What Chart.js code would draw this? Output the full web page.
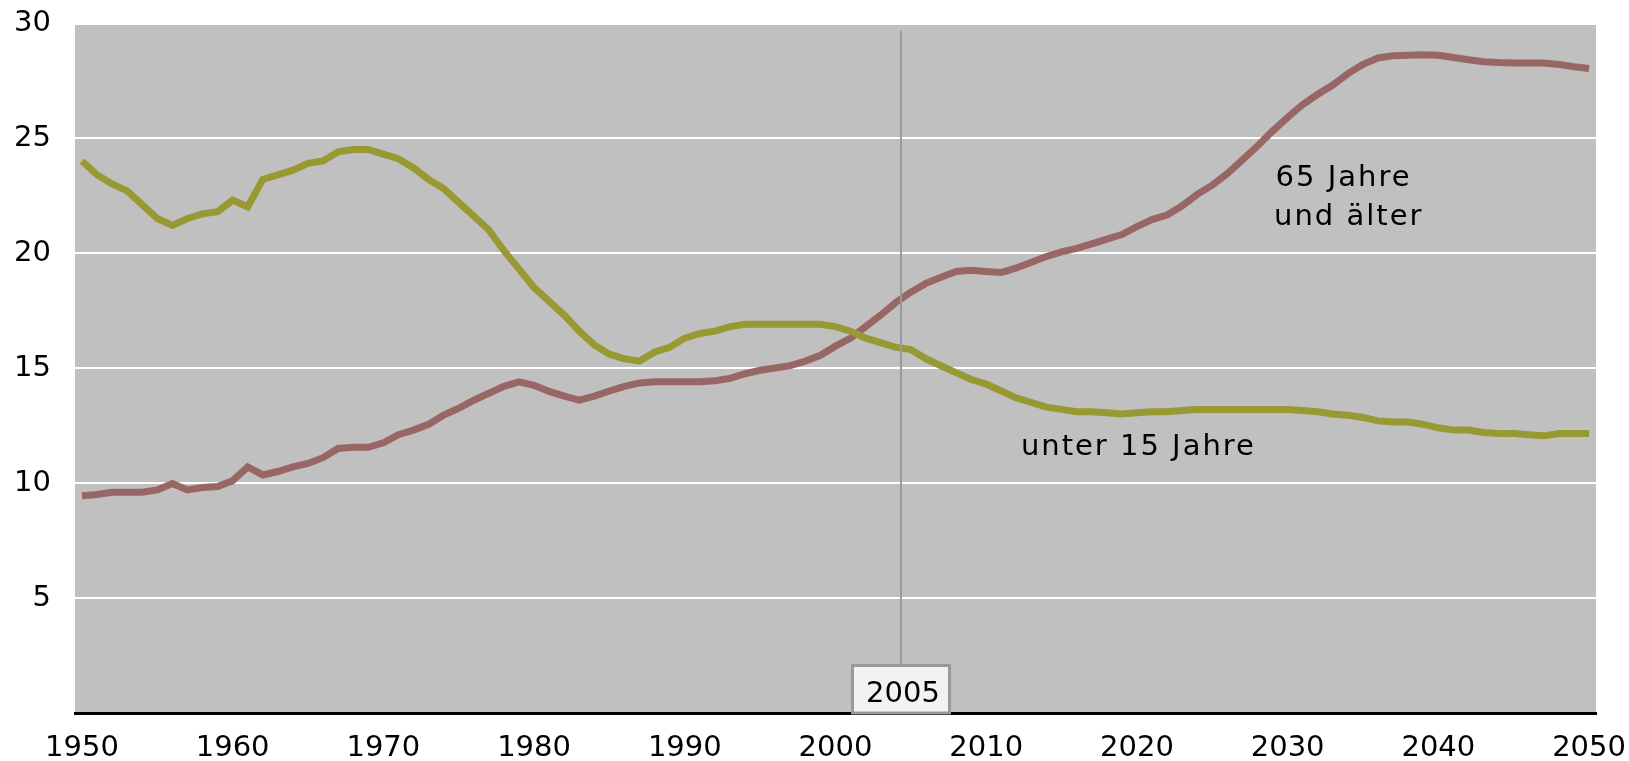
<!DOCTYPE html>
<html>
<head>
<meta charset="utf-8">
<script src="https://cdn.jsdelivr.net/npm/chart.js@4/dist/chart.umd.min.js"></script>
<style>
  html, body { margin: 0; padding: 0; background: #fff; }
  canvas { display: block; }
</style>
</head>
<body>
<canvas id="chart" width="1629" height="761"></canvas>
<script>
// years 1950..2050, share of population in percent
const firstYear = 1950
const lastYear = 2050
const xTicks = [1950, 1960, 1970, 1980, 1990, 2000, 2010, 2020, 2030, 2040, 2050]
const yTicks = [5, 10, 15, 20, 25, 30]

const under15 = [
  24.0, 23.4, 23.0, 22.7, 22.1, 21.5, 21.2, 21.5, 21.7, 21.8,
  22.3, 22.0, 23.2, 23.4, 23.6, 23.9, 24.0, 24.4, 24.5, 24.5,
  24.3, 24.1, 23.7, 23.2, 22.8, 22.2, 21.6, 21.0, 20.1, 19.3,
  18.5, 17.9, 17.3, 16.6, 16.0, 15.6, 15.4, 15.3, 15.7, 15.9,
  16.3, 16.5, 16.6, 16.8, 16.9, 16.9, 16.9, 16.9, 16.9, 16.9,
  16.8, 16.6, 16.3, 16.1, 15.9, 15.8, 15.4, 15.1, 14.8, 14.5,
  14.3, 14.0, 13.7, 13.5, 13.3, 13.2, 13.1, 13.1, 13.05, 13.0,
  13.05, 13.1, 13.1, 13.15, 13.2, 13.2, 13.2, 13.2, 13.2, 13.2,
  13.2, 13.15, 13.1, 13.0, 12.95, 12.85, 12.7, 12.65, 12.65, 12.55,
  12.4, 12.3, 12.3, 12.2, 12.15, 12.15, 12.1, 12.05, 12.15, 12.15,
  12.15
]

const over65 = [
  9.45, 9.5, 9.6, 9.6, 9.6, 9.7, 9.98, 9.7, 9.8, 9.85,
  10.1, 10.7, 10.35, 10.5, 10.7, 10.85, 11.1, 11.5, 11.55, 11.55,
  11.75, 12.1, 12.3, 12.55, 12.95, 13.25, 13.6, 13.9, 14.2, 14.4,
  14.25, 13.98, 13.78, 13.6, 13.78, 14.0, 14.2, 14.35, 14.4, 14.4,
  14.4, 14.4, 14.45, 14.55, 14.75, 14.9, 15.0, 15.1, 15.3, 15.55,
  15.95, 16.3, 16.8, 17.3, 17.85, 18.3, 18.68, 18.95, 19.2, 19.25,
  19.2, 19.15, 19.35, 19.6, 19.85, 20.05, 20.2, 20.4, 20.6, 20.8,
  21.15, 21.45, 21.65, 22.05, 22.55, 22.95, 23.45, 24.05, 24.65, 25.3,
  25.9, 26.45, 26.9, 27.3, 27.8, 28.2, 28.48, 28.58, 28.6, 28.62,
  28.6, 28.5, 28.4, 28.32, 28.28, 28.26, 28.26, 28.26, 28.2, 28.1,
  28.02
]

const markerLabel = "2005"
const markerValue = 2004.35 // where the marker sits on the x scale

// text labels next to the lines, anchored in data units
const lineLabels = [
  { text: "65 Jahre", x: 2029.2, y: 22.93 },
  { text: "und älter", x: 2029.1, y: 21.2 },
  { text: "unter 15 Jahre", x: 2012.3, y: 11.22 },
]

const years = under15.map((_, i) => firstYear + i)
const FONT = "'DejaVu Sans', Verdana, sans-serif"

// keep the chart area where the layout padding puts it
const noScalePadding = scale => {
  scale.paddingTop = 0
  scale.paddingBottom = 0
  scale.paddingLeft = 0
  scale.paddingRight = 0
}

const plotBackground = {
  id: "plotBackground",
  beforeDraw(chart) {
    const { ctx, chartArea } = chart
    ctx.save()
    ctx.fillStyle = "#c0c0c0"
    ctx.fillRect(chartArea.left, chartArea.top + 2, chartArea.right - chartArea.left, chartArea.bottom - chartArea.top - 2)
    ctx.restore()
  },
}

const extras = {
  id: "extras",
  afterDatasetsDraw(chart) {
    const { ctx, chartArea, scales } = chart
    ctx.save()
    // year marker
    const mx = Math.round(scales.x.getPixelForValue(markerValue))
    const boxW = 100
    const boxH = 49
    const boxTop = chartArea.bottom - boxH
    ctx.strokeStyle = "#999999"
    ctx.lineWidth = 2
    ctx.beginPath()
    ctx.moveTo(mx, chartArea.top + 8)
    ctx.lineTo(mx, boxTop)
    ctx.stroke()
    ctx.fillStyle = "#f2f2f2"
    ctx.fillRect(mx - boxW / 2, boxTop, boxW, boxH)
    ctx.lineWidth = 3
    ctx.strokeRect(mx - boxW / 2 + 1.5, boxTop + 1.5, boxW - 3, boxH - 1.5)
    ctx.fillStyle = "#000"
    ctx.font = "29px " + FONT
    ctx.textAlign = "center"
    ctx.textBaseline = "alphabetic"
    ctx.fillText(markerLabel, mx + 2, chartArea.bottom - 11)

    // line labels
    ctx.textAlign = "left"
    ctx.letterSpacing = "2px"
    lineLabels.forEach(l => {
      ctx.fillText(l.text, scales.x.getPixelForValue(l.x), scales.y.getPixelForValue(l.y))
    })
    ctx.restore()
  },
}

new Chart(document.getElementById("chart"), {
  type: "line",
  data: {
    labels: years,
    datasets: [
      {
        label: "unter 15 Jahre",
        data: years.map((y, i) => ({ x: y, y: under15[i] })),
        borderColor: "#999933",
        borderWidth: 7,
        pointRadius: 0,
        tension: 0,
        fill: false,
      },
      {
        label: "65 Jahre und älter",
        data: years.map((y, i) => ({ x: y, y: over65[i] })),
        borderColor: "#996666",
        borderWidth: 7,
        pointRadius: 0,
        tension: 0,
        fill: false,
      },
    ],
  },
  options: {
    responsive: false,
    animation: false,
    layout: { padding: { top: 23, right: 33, left: 0, bottom: 0 } },
    plugins: {
      legend: { display: false },
      tooltip: { enabled: false },
    },
    scales: {
      x: {
        type: "linear",
        min: firstYear - 0.46,
        max: lastYear + 0.46,
        afterBuildTicks: scale => {
          scale.ticks = xTicks.map(v => ({ value: v }))
        },
        afterFit: scale => {
          scale.height = 48
          noScalePadding(scale)
        },
        grid: { display: false, drawTicks: false },
        border: { display: true, color: "#000", width: 3 },
        ticks: {
          color: "#000",
          padding: 18,
          maxRotation: 0,
          autoSkip: false,
          font: { family: FONT, size: 29 },
          callback: v => String(v),
        },
      },
      y: {
        min: 0,
        max: 30,
        afterBuildTicks: scale => {
          scale.ticks = yTicks.map(v => ({ value: v }))
        },
        afterFit: scale => {
          scale.width = 75
          noScalePadding(scale)
        },
        grid: {
          drawTicks: false,
          lineWidth: 2,
          color: c => (c.tick && c.tick.value > 0 && c.tick.value < 30 ? "#ffffff" : "rgba(0,0,0,0)"),
        },
        border: { display: false },
        ticks: {
          color: "#000",
          padding: 24,
          font: { family: FONT, size: 29 },
          callback: v => String(v),
        },
      },
    },
  },
  plugins: [plotBackground, extras],
})
</script>
</body>
</html>
